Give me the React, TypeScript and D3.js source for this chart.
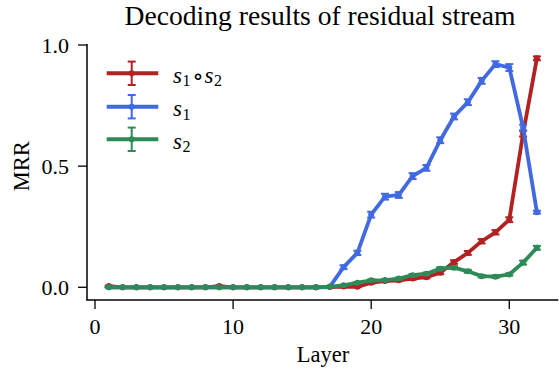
import React from "react";
import * as d3 from "d3";

const layers = d3.range(1, 33);
const s12Values = [0.005, 0.0, 0.0, 0.0, 0.0, 0.0, 0.0, 0.0, 0.005, 0.0, 0.0, 0.0, 0.0, 0.0, 0.0, 0.0, 0.001, 0.003, 0.002, 0.019, 0.026, 0.029, 0.036, 0.042, 0.06, 0.104, 0.142, 0.19, 0.227, 0.279, 0.634, 0.945];
const s1Values = [0.0, 0.0, 0.0, 0.0, 0.0, 0.0, 0.0, 0.0, 0.0, 0.0, 0.0, 0.0, 0.0, 0.0, 0.0, 0.0, 0.002, 0.083, 0.142, 0.30, 0.374, 0.381, 0.459, 0.493, 0.607, 0.705, 0.764, 0.852, 0.921, 0.907, 0.659, 0.31];
const s2Values = [0.0, 0.0, 0.0, 0.0, 0.0, 0.0, 0.0, 0.0, 0.0, 0.0, 0.0, 0.0, 0.0, 0.0, 0.0, 0.0, 0.003, 0.008, 0.019, 0.029, 0.03, 0.036, 0.05, 0.056, 0.077, 0.081, 0.066, 0.046, 0.044, 0.053, 0.102, 0.163];
const s12Err = [0.002, 0.001, 0.001, 0.001, 0.001, 0.001, 0.001, 0.001, 0.002, 0.001, 0.001, 0.001, 0.001, 0.001, 0.001, 0.001, 0.001, 0.002, 0.002, 0.004, 0.004, 0.004, 0.005, 0.005, 0.006, 0.007, 0.008, 0.009, 0.009, 0.01, 0.012, 0.008];
const s1Err = [0.001, 0.001, 0.001, 0.001, 0.001, 0.001, 0.001, 0.001, 0.001, 0.001, 0.001, 0.001, 0.001, 0.001, 0.001, 0.001, 0.001, 0.008, 0.009, 0.012, 0.012, 0.012, 0.012, 0.012, 0.012, 0.012, 0.012, 0.012, 0.012, 0.014, 0.012, 0.006];
const s2Err = [0.001, 0.001, 0.001, 0.001, 0.001, 0.001, 0.001, 0.001, 0.001, 0.001, 0.001, 0.001, 0.001, 0.001, 0.001, 0.001, 0.001, 0.002, 0.003, 0.004, 0.004, 0.004, 0.005, 0.005, 0.006, 0.006, 0.006, 0.005, 0.005, 0.005, 0.008, 0.008];
const xTicks = [0, 10, 20, 30];
const yTicks = [0.0, 0.5, 1.0];

const series = [
  { key: "s12", values: s12Values, err: s12Err, color: "#b22222" },
  { key: "s1", values: s1Values, err: s1Err, color: "#4169e1" },
  { key: "s2", values: s2Values, err: s2Err, color: "#2e8b57" },
];

const W = 559;
const H = 371;
const font = "Liberation Serif";

export default function App() {
  const x = d3.scaleLinear().domain([-0.55, 33.55]).range([87.4, 558.3]);
  const y = d3.scaleLinear().domain([-0.0524, 1.0]).range([300, 45]);
  const line = d3
    .line<number>()
    .x((_, i) => x(layers[i]))
    .y((v) => y(v));

  const axisY = 300;
  const axisX = 87;
  const cap = 4;

  const legendRows = [
    { color: "#b22222", y: 73.3, sub1: "1", comp: true },
    { color: "#4169e1", y: 106.7, sub1: "1", comp: false },
    { color: "#2e8b57", y: 139.3, sub1: "2", comp: false },
  ];

  return (
    <svg
      width={W}
      height={H}
      style={{ position: "absolute", left: 0, top: 0, background: "#fff" }}
      fontFamily={font}
    >
      <rect x={0} y={0} width={W} height={H} fill="#fff" />
      <text x={320} y={25} textAnchor="middle" fontSize={27.6} fill="#000">
        Decoding results of residual stream
      </text>

      {series.map((s) => (
        <g key={s.key}>
          <path d={line(s.values) || ""} fill="none" stroke={s.color} strokeWidth={3.8} strokeLinejoin="round" />
          {s.values.map((v, i) => {
            const cx = x(layers[i]);
            const e = s.err[i];
            return (
              <g key={i}>
                <line x1={cx} x2={cx} y1={y(v - e)} y2={y(v + e)} stroke={s.color} strokeWidth={2} />
                <line x1={cx - cap} x2={cx + cap} y1={y(v - e)} y2={y(v - e)} stroke={s.color} strokeWidth={2} />
                <line x1={cx - cap} x2={cx + cap} y1={y(v + e)} y2={y(v + e)} stroke={s.color} strokeWidth={2} />
                <circle cx={cx} cy={y(v)} r={3} fill={s.color} />
              </g>
            );
          })}
        </g>
      ))}

      <line x1={axisX} x2={axisX} y1={44} y2={axisY} stroke="#000" strokeWidth={1.5} />
      {yTicks.map((t) => (
        <g key={t}>
          <line x1={axisX - 9} x2={axisX} y1={y(t)} y2={y(t)} stroke="#000" strokeWidth={1.3} />
          <text x={69} y={y(t) + 8} textAnchor="end" fontSize={22} fill="#000">
            {d3.format(".1f")(t)}
          </text>
        </g>
      ))}
      <text
        transform={`translate(28.5, ${y(0.5)}) rotate(-90)`}
        textAnchor="middle"
        fontSize={22.5}
        fill="#000"
      >
        MRR
      </text>

      <line x1={axisX - 0.75} x2={558.3} y1={axisY} y2={axisY} stroke="#000" strokeWidth={1.5} />
      {xTicks.map((t) => (
        <g key={t}>
          <line x1={x(t)} x2={x(t)} y1={axisY} y2={axisY + 9} stroke="#000" strokeWidth={1.3} />
          <text x={x(t)} y={334} textAnchor="middle" fontSize={22} fill="#000">
            {t}
          </text>
        </g>
      ))}
      <text x={323} y={362} textAnchor="middle" fontSize={22.5} fill="#000">
        Layer
      </text>

      {legendRows.map((it, k) => (
        <g key={k}>
          <line x1={106.7} x2={158.3} y1={it.y} y2={it.y} stroke={it.color} strokeWidth={4} />
          <line x1={131.7} x2={131.7} y1={it.y - 11.7} y2={it.y + 11.7} stroke={it.color} strokeWidth={2} />
          <line x1={127.7} x2={135.7} y1={it.y - 11.7} y2={it.y - 11.7} stroke={it.color} strokeWidth={2} />
          <line x1={127.7} x2={135.7} y1={it.y + 11.7} y2={it.y + 11.7} stroke={it.color} strokeWidth={2} />
          <circle cx={131.7} cy={it.y} r={3} fill={it.color} />
          <text x={173} y={it.y + 9.5} fontSize={23} fontStyle="italic" fill="#000">s</text>
          <text x={182.5} y={it.y + 13} fontSize={16} fill="#000">{it.sub1}</text>
          {it.comp && (
            <>
              <text x={198} y={it.y + 10} fontSize={20} textAnchor="middle" fontFamily="DejaVu Sans" fontWeight="bold" fill="#000">∘</text>
              <text x={204.5} y={it.y + 9.5} fontSize={23} fontStyle="italic" fill="#000">s</text>
              <text x={214} y={it.y + 13} fontSize={16} fill="#000">2</text>
            </>
          )}
        </g>
      ))}
    </svg>
  );
}
